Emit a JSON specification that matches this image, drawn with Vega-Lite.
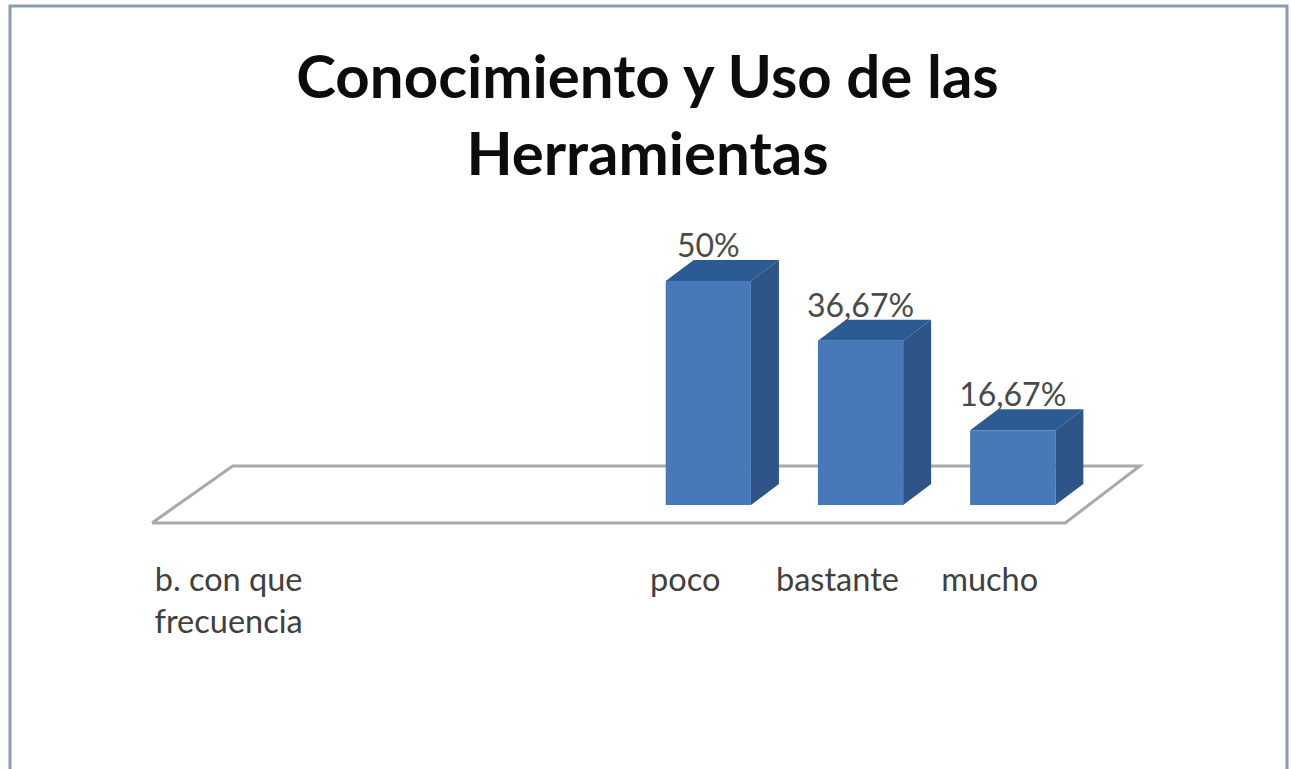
{
  "$schema": "https://vega.github.io/schema/vega-lite/v6.json",
  "width": 1277,
  "height": 770,
  "padding": {"left": 10, "top": 6, "right": 4, "bottom": 0},
  "autosize": "none",
  "background": "#ffffff",
  "config": {"view": {"stroke": "#8c9cb2", "strokeWidth": 3}},
  "title": {
    "text": ["Conocimiento y Uso de las", "Herramientas"],
    "font": "Lato",
    "fontWeight": "bold",
    "fontSize": 60,
    "lineHeight": 77,
    "color": "#0c0c0c",
    "anchor": "middle",
    "baseline": "top",
    "dx": -1,
    "offset": -182
  },
  "datasets": {
    "barras": [
      {"categoria": "poco", "orden": 3, "valor": 50},
      {"categoria": "bastante", "orden": 4, "valor": 36.67},
      {"categoria": "mucho", "orden": 5, "valor": 16.67}
    ],
    "suelo": [
      {"paso": 0, "pos": 0, "nivel": -4},
      {"paso": 1, "pos": 6, "nivel": -4},
      {"paso": 2, "pos": 6.49, "nivel": 8.7},
      {"paso": 3, "pos": 0.53, "nivel": 8.7},
      {"paso": 4, "pos": 0, "nivel": -4}
    ]
  },
  "layer": [
    {
      "data": {"name": "suelo"},
      "mark": {"type": "line", "stroke": "#a9a9a9", "strokeWidth": 3, "strokeJoin": "miter"},
      "encoding": {
        "x": {
          "field": "pos",
          "type": "quantitative",
          "scale": {"domain": [-0.933, 7.457], "nice": false, "zero": false},
          "axis": {
            "title": null,
            "domain": false,
            "ticks": false,
            "grid": false,
            "values": [0.5, 3.5, 4.5, 5.5],
            "labelExpr": "datum.value == 0.5 ? ['b. con que', 'frecuencia'] : datum.value == 3.5 ? 'poco' : datum.value == 4.5 ? 'bastante' : 'mucho'",
            "labelFont": "Lato",
            "labelFontSize": 32.5,
            "labelColor": "#404040",
            "labelLineHeight": 42,
            "labelBaseline": "middle",
            "labelPadding": 0,
            "labelOverlap": false,
            "offset": -196
          }
        },
        "y": {
          "field": "nivel",
          "type": "quantitative",
          "scale": {"domain": [-60.5, 111.4], "nice": false, "zero": false},
          "axis": null
        },
        "order": {"field": "paso", "type": "ordinal"}
      }
    },
    {
      "data": {"name": "barras"},
      "transform": [
        {"calculate": "[[0, 0, 0], [1, 0, 4.69]]", "as": "v"},
        {"flatten": ["v"]},
        {"calculate": "datum.orden + 0.935 + datum.v[0] * 0.184", "as": "px"},
        {"calculate": "datum.v[2]", "as": "abajo"},
        {"calculate": "datum.valor + datum.v[2]", "as": "arriba"}
      ],
      "mark": {"type": "area", "color": "#2f5488"},
      "encoding": {
        "x": {"field": "px", "type": "quantitative", "scale": {"domain": [-0.933, 7.457], "nice": false, "zero": false}},
        "y": {"field": "arriba", "type": "quantitative", "stack": null, "scale": {"domain": [-60.5, 111.4], "nice": false, "zero": false}},
        "y2": {"field": "abajo"},
        "detail": {"field": "categoria"}
      }
    },
    {
      "data": {"name": "barras"},
      "transform": [
        {"calculate": "[[0, 0, 0], [0.184, 0, 4.69], [0.56, 0, 4.69], [0.744, 4.69, 4.69]]", "as": "v"},
        {"flatten": ["v"]},
        {"calculate": "datum.orden + 0.375 + datum.v[0]", "as": "px"},
        {"calculate": "datum.valor + datum.v[1]", "as": "abajo"},
        {"calculate": "datum.valor + datum.v[2]", "as": "arriba"}
      ],
      "mark": {"type": "area", "color": "#2c5a92"},
      "encoding": {
        "x": {"field": "px", "type": "quantitative", "scale": {"domain": [-0.933, 7.457], "nice": false, "zero": false}},
        "y": {"field": "arriba", "type": "quantitative", "stack": null, "scale": {"domain": [-60.5, 111.4], "nice": false, "zero": false}},
        "y2": {"field": "abajo"},
        "detail": {"field": "categoria"}
      }
    },
    {
      "data": {"name": "barras"},
      "transform": [
        {"calculate": "datum.orden + 0.375", "as": "desde"},
        {"calculate": "datum.orden + 0.935", "as": "hasta"}
      ],
      "mark": {"type": "rect", "color": "#4779b9"},
      "encoding": {
        "x": {"field": "desde", "type": "quantitative", "scale": {"domain": [-0.933, 7.457], "nice": false, "zero": false}},
        "x2": {"field": "hasta"},
        "y": {"field": "valor", "type": "quantitative", "scale": {"domain": [-60.5, 111.4], "nice": false, "zero": false}},
        "y2": {"datum": 0}
      }
    },
    {
      "data": {"name": "barras"},
      "transform": [
        {"calculate": "datum.orden + 0.655", "as": "centro"},
        {"calculate": "replace(format(datum.valor, '.2~f'), '.', ',') + '%'", "as": "etiqueta"}
      ],
      "mark": {"type": "text", "font": "Lato", "fontSize": 32, "color": "#4a4a4a", "baseline": "middle", "dy": -34},
      "encoding": {
        "x": {"field": "centro", "type": "quantitative", "scale": {"domain": [-0.933, 7.457], "nice": false, "zero": false}},
        "y": {"field": "valor", "type": "quantitative", "scale": {"domain": [-60.5, 111.4], "nice": false, "zero": false}},
        "text": {"field": "etiqueta"}
      }
    }
  ]
}
